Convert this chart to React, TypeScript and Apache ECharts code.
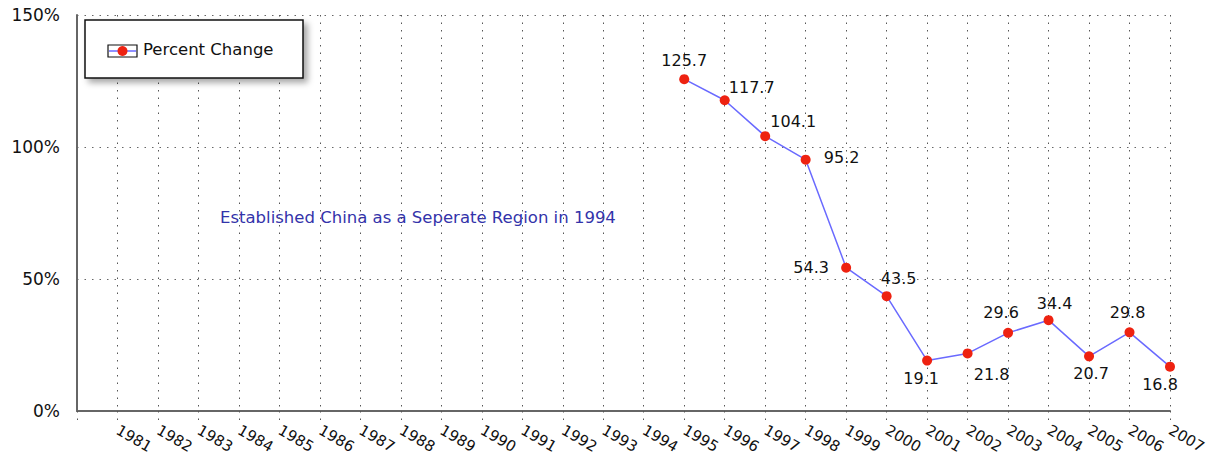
import React, { useEffect, useRef } from "react";
import * as echarts from "echarts";

const categories = ["", "1981", "1982", "1983", "1984", "1985", "1986", "1987", "1988", "1989", "1990", "1991", "1992", "1993", "1994", "1995", "1996", "1997", "1998", "1999", "2000", "2001", "2002", "2003", "2004", "2005", "2006", "2007"];
const values: (number | null)[] = [null, null, null, null, null, null, null, null, null, null, null, null, null, null, null, 125.7, 117.7, 104.1, 95.2, 54.3, 43.5, 19.1, 21.8, 29.6, 34.4, 20.7, 29.8, 16.8];
// label offsets (dx, dy) from each point, for the 1995..2007 values
const labelOffsets: number[][] = [
  [0, -19], [27, -13], [28, -15], [36, -2], [-35, 0], [12, -18], [-6, 18],
  [24, 21], [-7, -20], [6, -17], [2, 17], [-2, -20], [-10, 18],
];
const yTicks = [0, 50, 100, 150];
const seriesName = "Percent Change";
const annotation = "Established China as a Seperate Region in 1994";

export default function App() {
  const ref = useRef<HTMLDivElement>(null);
  useEffect(() => {
    const chart = echarts.init(ref.current!, null, { renderer: "svg" });
    const font = "DejaVu Sans";
    const firstIdx = values.findIndex((v) => v !== null);
    chart.setOption({
      animation: false,
      textStyle: { fontFamily: font },
      grid: { left: 77, right: 40, top: 15, bottom: 55, containLabel: false, outerBoundsMode: "none" },
      legend: {
        left: 85,
        top: 20,
        z: 20,
        padding: [21, 30, 21, 23],
        itemWidth: 29,
        itemHeight: 12,
        itemStyle: { opacity: 0 },
        lineStyle: { opacity: 0 },
        textStyle: { fontSize: 16.5, color: "#111", fontFamily: font },
        data: [seriesName],
      },
      xAxis: {
        type: "category",
        data: categories,
        boundaryGap: false,
        axisLine: { lineStyle: { color: "#666", width: 2 } },
        axisTick: { show: true, length: 14, lineStyle: { color: "#555", type: [1.5, 6] } },
        axisLabel: {
          rotate: -30,
          fontSize: 15,
          color: "#111",
          margin: 18,
          interval: 0,
        },
        splitLine: { show: true, lineStyle: { color: "#555", type: [1.5, 6], width: 1 } },
      },
      yAxis: {
        type: "value",
        min: yTicks[0],
        max: yTicks[yTicks.length - 1],
        interval: 50,
        axisLine: { show: true, lineStyle: { color: "#666", width: 2 } },
        axisTick: { show: false },
        axisLabel: { formatter: "{value}%", fontSize: 17, color: "#111", margin: 17 },
        splitLine: { show: true, lineStyle: { color: "#666", type: [1.5, 6], width: 1 } },
      },
      graphic: [
        {
          type: "text",
          left: 220,
          top: 209,
          style: { text: annotation, fill: "#3333aa", font: `16.5px ${font}` },
        },
        {
          type: "rect",
          shape: { x: 85, y: 20, width: 218, height: 58 },
          style: {
            fill: "#fff",
            stroke: "#111",
            lineWidth: 1.5,
            shadowBlur: 6,
            shadowColor: "rgba(0,0,0,0.35)",
            shadowOffsetX: 4,
            shadowOffsetY: 4,
          },
          z: 5,
        },
        { type: "rect", shape: { x: 108, y: 45, width: 29, height: 12 }, style: { fill: "#fff", stroke: "#111", lineWidth: 1.2 }, z: 6 },
        { type: "line", shape: { x1: 109, y1: 51, x2: 136, y2: 51 }, style: { stroke: "#6a6aff", lineWidth: 1.5 }, z: 7 },
        { type: "circle", shape: { cx: 122.5, cy: 51, r: 5 }, style: { fill: "#ee2211" }, z: 8 },
      ],
      series: [
        {
          name: seriesName,
          type: "line",
          connectNulls: false,
          symbol: "circle",
          symbolSize: 10,
          itemStyle: { color: "#ee2211" },
          lineStyle: { color: "#6a6aff", width: 1.5 },
          data: values.map((v, i) => {
            const off = v !== null ? labelOffsets[i - firstIdx] : [0, 0];
            return {
              value: v,
              label: {
                show: v !== null,
                position: "inside",
                offset: off,
                fontSize: 16,
                color: "#111",
                fontFamily: font,
              },
            };
          }),
        },
      ],
    });
    return () => chart.dispose();
  }, []);
  return <div ref={ref} style={{ position: "absolute", left: 0, top: 0, width: 1210, height: 466 }} />;
}
